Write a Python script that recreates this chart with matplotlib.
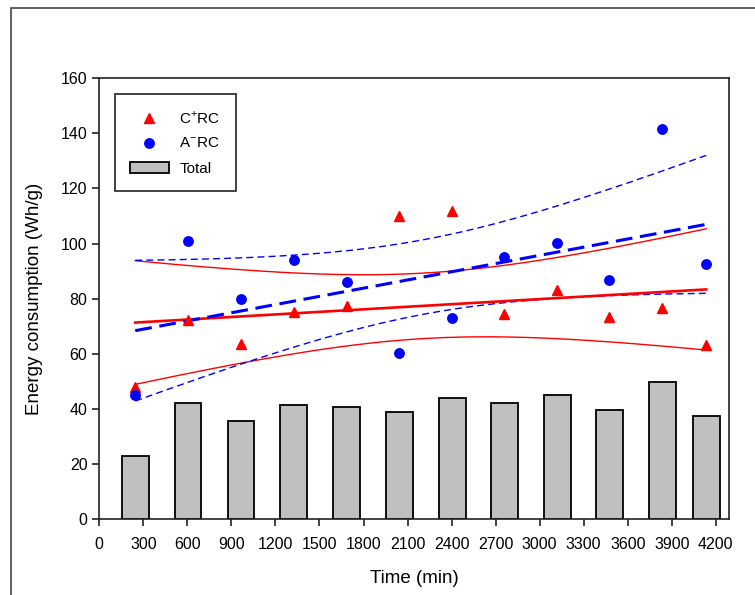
import numpy as np
import matplotlib
matplotlib.use("Agg")
import matplotlib.pyplot as plt
from matplotlib.lines import Line2D
from matplotlib.patches import Patch, Rectangle

plt.rcParams['font.family'] = ['Liberation Sans', 'DejaVu Sans']
plt.rcParams['mathtext.fontset'] = 'custom'
plt.rcParams['mathtext.rm'] = 'Liberation Sans'

# ---- data ----
time_min = [245, 605, 965, 1325, 1685, 2045, 2405, 2760, 3120, 3475, 3835, 4135]
c_rc = [48.0, 72.2, 63.7, 75.2, 77.3, 110.0, 111.8, 74.6, 83.1, 73.4, 76.6, 63.1]
a_rc = [45.0, 100.9, 79.9, 94.0, 86.2, 60.1, 72.9, 95.2, 100.3, 86.7, 141.5, 92.6]
total = [23.0, 42.0, 35.7, 41.5, 40.8, 38.7, 43.8, 42.0, 45.2, 39.4, 49.6, 37.5]
x_ticks = list(range(0, 4201, 300))
y_ticks = list(range(0, 161, 20))
T_CRIT = 2.228  # t(0.975, df=10)


def fit_with_ci(x, y, grid):
    x = np.asarray(x, float)
    y = np.asarray(y, float)
    n = len(x)
    b, a = np.polyfit(x, y, 1)
    resid = y - (a + b * x)
    s = np.sqrt(np.sum(resid ** 2) / (n - 2))
    xm = x.mean()
    sxx = np.sum((x - xm) ** 2)
    yhat = a + b * grid
    hw = T_CRIT * s * np.sqrt(1.0 / n + (grid - xm) ** 2 / sxx)
    return yhat, yhat - hw, yhat + hw


fig = plt.figure(figsize=(7.55, 5.95), dpi=100)
ax = fig.add_axes([99.3 / 755, 1 - 519 / 595, (729 - 99.3) / 755, (519 - 78.3) / 595])

# outer frame
fig.add_artist(Rectangle((11 / 755, -0.1), 2.0, 1.1 - 8 / 595, transform=fig.transFigure,
                         fill=False, edgecolor='#444444', lw=1.2, clip_on=False))

ax.bar(time_min, total, width=182, color='#c0c0c0', edgecolor='black', linewidth=1.3, zorder=2)

grid = np.linspace(time_min[0], time_min[-1], 200)
r_fit, r_lo, r_hi = fit_with_ci(time_min, c_rc, grid)
b_fit, b_lo, b_hi = fit_with_ci(time_min, a_rc, grid)

ax.plot(grid, r_lo, color='red', lw=1.0, zorder=3)
ax.plot(grid, r_hi, color='red', lw=1.0, zorder=3)
ax.plot(grid, r_fit, color='red', lw=1.9, zorder=4)
ax.plot(grid, b_lo, color='blue', lw=1.0, ls=(0, (5, 3)), zorder=3)
ax.plot(grid, b_hi, color='blue', lw=1.0, ls=(0, (5, 3)), zorder=3)
ax.plot(grid, b_fit, color='blue', lw=2.2, ls=(0, (5.5, 2.5)), zorder=5)

ax.plot(time_min, c_rc, linestyle='none', marker='^', color='red', markersize=7, zorder=6)
ax.plot(time_min, a_rc, linestyle='none', marker='o', color='blue', markersize=6.8, zorder=6)

ax.set_xlim(0, 4290)
ax.set_ylim(0, 160)
ax.set_xticks(x_ticks)
ax.set_yticks(y_ticks)
ax.tick_params(axis='both', direction='out', length=5, width=1.2, labelsize=11.5, color='#222222')
ax.tick_params(axis='x', pad=8)
for sp in ax.spines.values():
    sp.set_linewidth(1.2)
    sp.set_color('#222222')

ax.set_xlabel('Time (min)', fontsize=13.5, labelpad=13)
ax.set_ylabel('Energy consumption (Wh/g)', fontsize=13.5, labelpad=13)

handles = [
    Line2D([], [], linestyle='none', marker='^', color='red', markersize=7),
    Line2D([], [], linestyle='none', marker='o', color='blue', markersize=6.8),
    Patch(facecolor='#c0c0c0', edgecolor='black', linewidth=1.3),
]
labels = ['C$^{+}$RC', 'A$^{-}$RC', 'Total']
leg = ax.legend(handles, labels, loc='upper left', bbox_to_anchor=(0.025, 0.964),
                borderaxespad=0, fontsize=11, frameon=True, fancybox=False,
                edgecolor='black', borderpad=1.0, labelspacing=0.7,
                handlelength=2.5, handletextpad=0.7, handleheight=0.7)
leg.get_frame().set_linewidth(1.3)

fig.savefig('out.png', dpi=100)
